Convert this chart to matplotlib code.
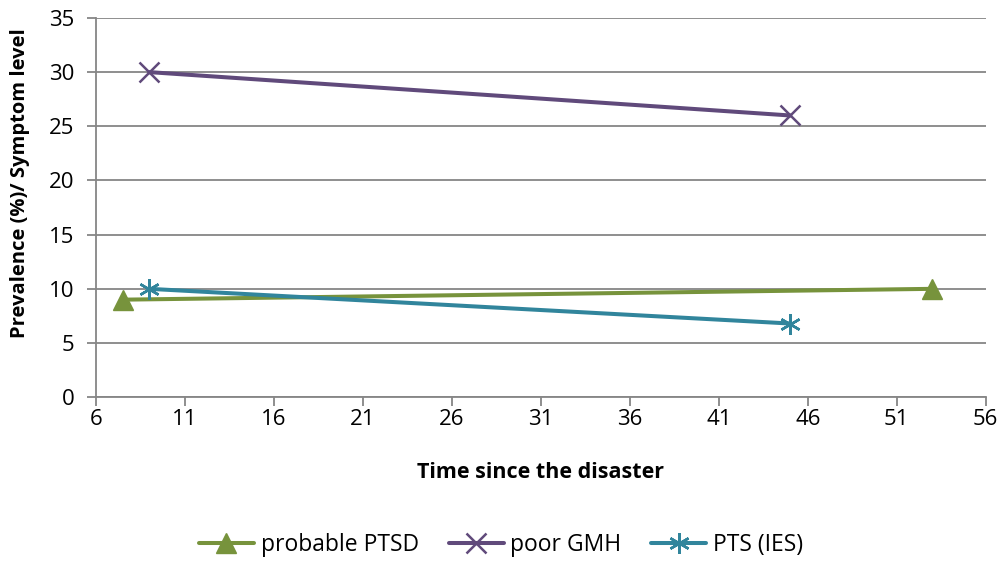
import matplotlib
matplotlib.use('Agg')
import matplotlib.pyplot as plt

plt.rcParams['font.family'] = ['Open Sans', 'DejaVu Sans']

# Dados
x_ptsd = [7.5, 53]
y_ptsd = [9, 10]
x_gmh = [9, 45]
y_gmh = [30, 26]
x_ies = [9, 45]
y_ies = [10, 6.8]
x_ticks = list(range(6, 57, 5))
y_ticks = list(range(0, 36, 5))

cor_grade = '#868686'

fig = plt.figure(figsize=(10.02, 5.61), dpi=100)
ax = fig.add_axes([0.0958, 0.292, 0.888, 0.676])

ax.plot(x_ptsd, y_ptsd, color='#77933C', lw=2.9, marker='^', ms=14,
        label='probable PTSD', solid_capstyle='round', zorder=3)
ax.plot(x_gmh, y_gmh, color='#604A7B', lw=2.9, marker='x', ms=14, mew=1.8,
        label='poor GMH', solid_capstyle='round', zorder=3)
ax.plot(x_ies, y_ies, color='#31859C', lw=2.9, marker=(6, 2, 0), ms=15, mew=1.8,
        label='PTS (IES)', solid_capstyle='round', zorder=3)

ax.set_xlim(6, 56)
ax.set_ylim(0, 35)
ax.set_xticks(x_ticks)
ax.set_yticks(y_ticks)
ax.yaxis.grid(True, color=cor_grade, lw=1.3)
ax.set_axisbelow(True)

for lado in ['top', 'right']:
    ax.spines[lado].set_visible(False)
for lado in ['left', 'bottom']:
    ax.spines[lado].set_color(cor_grade)
    ax.spines[lado].set_linewidth(1.3)

ax.tick_params(axis='both', colors=cor_grade, length=6.5, width=1.3, labelsize=16,
               labelcolor='black')
ax.tick_params(axis='x', pad=2)
ax.tick_params(axis='y', pad=9)

ax.set_xlabel('Time since the disaster', fontsize=15.5, fontweight='bold')
ax.set_ylabel('Prevalence (%)/ Symptom level', fontsize=14.5, fontweight='bold')
ax.xaxis.set_label_coords(0.5, -0.198)
ax.yaxis.set_label_coords(-0.085, 0.565)
ax.xaxis.label.set_va('center')
ax.yaxis.label.set_va('center')

fig.legend(*ax.get_legend_handles_labels(), loc='center', bbox_to_anchor=(0.5, 0.0285),
           ncol=3, frameon=False, fontsize=16.5, handlelength=2.4, handletextpad=0.3,
           columnspacing=1.3, borderaxespad=0, borderpad=0)

fig.savefig('out.png', dpi=100)
